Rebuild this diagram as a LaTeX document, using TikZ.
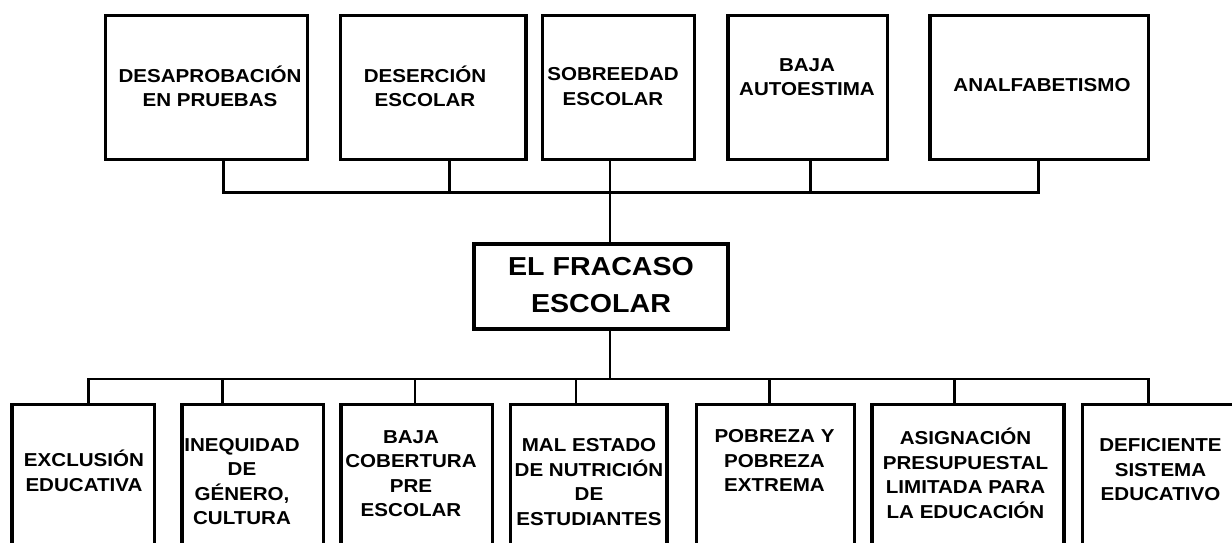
\documentclass[tikz,border=0pt]{standalone}
\usepackage{fontspec}
\setmainfont{Liberation Sans}[FakeStretch=1.1]
\begin{document}
\tikzset{
  box/.style={draw, line width=3.5pt, rectangle, inner sep=0pt},
  topbox/.style={box, minimum height=143.6pt},
  botbox/.style={box, minimum height=165.5pt},
  conn/.style={line width=2.8pt},
  txt/.style={align=center, inner sep=0pt, font=\fontsize{18.7}{24.5}\selectfont\bfseries,
    execute at begin node=\rule{0pt}{19pt}, execute at end node=\rule[-5pt]{0pt}{5pt}},
  bigtxt/.style={align=center, inner sep=0pt, font=\fontsize{26}{36.7}\selectfont\bfseries,
    execute at begin node=\rule{0pt}{26pt}, execute at end node=\rule[-7pt]{0pt}{7pt}},
}
\begin{tikzpicture}[x=1pt,y=-1pt]
\useasboundingbox (0,0) rectangle (1232,542);
\fill[white] (0,0) rectangle (1232,542);
\clip (0,0) rectangle (1232,542);

% top boxes
\node[topbox, minimum width=202pt]   (t1) at (206.5,87.5) {};
\node[topbox, minimum width=185.3pt] (t2) at (433.35,87.5) {};
\node[topbox, minimum width=152.1pt] (t3) at (618.35,87.5) {};
\node[topbox, minimum width=159.3pt] (t4) at (807.85,87.5) {};
\node[topbox, minimum width=218.6pt] (t5) at (1039.1,87.5) {};

\node[txt] (tt1) at (210,88.8) {DESAPROBACIÓN\\EN PRUEBAS};
\node[txt] (tt2) at (425,88.8) {DESERCIÓN\\ESCOLAR};
\node[txt] (tt3) at (613,88.8) {SOBREEDAD\\ESCOLAR};
\node[txt] (tt4) at (807,79.6) {BAJA\\AUTOESTIMA};
\node[txt] (tt5) at (1042,84.7) {ANALFABETISMO};

% center box
\node[box, minimum width=254pt, minimum height=85pt] (c) at (601,286.5) {};
\node[bigtxt] (ct) at (601,288.2) {EL FRACASO\\ESCOLAR};

% bottom boxes
\node[botbox, minimum width=142.7pt] (b1) at (83.35,487.25) {};
\node[botbox, minimum width=141.5pt] (b2) at (252.75,487.25) {};
\node[botbox, minimum width=151.5pt] (b3) at (416.75,487.25) {};
\node[botbox, minimum width=156.7pt] (b4) at (588.65,487.25) {};
\node[botbox, minimum width=158pt]   (b5) at (775.4,487.25) {};
\node[botbox, minimum width=192.4pt] (b6) at (968,487.25) {};
\node[botbox, minimum width=177.5pt] (b7) at (1171.25,487.25) {};

\node[txt] (bt1) at (84,473) {EXCLUSIÓN\\EDUCATIVA};
\node[txt] (bt2) at (242,484.2) {INEQUIDAD\\DE\\GÉNERO,\\CULTURA};
\node[txt] (bt3) at (411,475.9) {BAJA\\COBERTURA\\PRE\\ESCOLAR};
\node[txt] (bt4) at (589,484.7) {MAL ESTADO\\DE NUTRICIÓN\\DE\\ESTUDIANTES};
\node[txt] (bt5) at (774.5,463.4) {POBREZA Y\\POBREZA\\EXTREMA};
\node[txt] (bt6) at (965.5,475.9) {ASIGNACIÓN\\PRESUPUESTAL\\LIMITADA PARA\\LA EDUCACIÓN};
\node[txt] (bt7) at (1160.5,472.2) {DEFICIENTE\\SISTEMA\\EDUCATIVO};

% junction coordinates
\coordinate (u1) at (223.3,192.7);
\coordinate (u2) at (449.4,192.7);
\coordinate (u3) at (610,192.7);
\coordinate (u4) at (810.5,192.7);
\coordinate (u5) at (1038.7,192.7);
\coordinate (l0) at (610,379);
\coordinate (l1) at (88.3,379);
\coordinate (l2) at (222.7,379);
\coordinate (l3) at (415,379);
\coordinate (l4) at (576,379);
\coordinate (l5) at (769.4,379);
\coordinate (l6) at (954.8,379);
\coordinate (l7) at (1148.3,379);

% upper connectors
\draw[conn] (t1.south -| u1) -- (u1) -- (u5) -- (t5.south -| u5);
\draw[conn] (t2.south -| u2) -- (u2);
\draw[conn] (t4.south -| u4) -- (u4);
\draw[conn] (t3.south -| u3) -- (c.north -| u3);

% lower connectors
\draw[conn] (c.south -| l0) -- (l0);
\draw[conn] (b1.north -| l1) -- (l1) -- (l7) -- (b7.north -| l7);
\draw[conn] (l2) -- (b2.north -| l2);
\draw[conn] (l3) -- (b3.north -| l3);
\draw[conn] (l4) -- (b4.north -| l4);
\draw[conn] (l5) -- (b5.north -| l5);
\draw[conn] (l6) -- (b6.north -| l6);
\end{tikzpicture}
\end{document}
